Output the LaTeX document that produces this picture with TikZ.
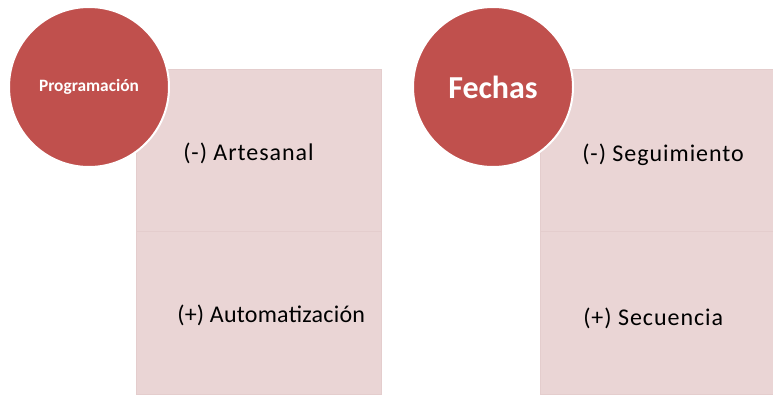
\documentclass[tikz,border=0pt]{standalone}
\usepackage{fontspec}
\setmainfont{Carlito}
\newfontfamily\itemfont[LetterSpace=4]{Carlito}
\newfontfamily\itemfonttight[LetterSpace=1]{Carlito}
\definecolor{topicred}{HTML}{C0504D}
\definecolor{cellpink}{HTML}{EAD5D5}
\definecolor{cellline}{HTML}{E4CDCD}

\begin{document}
\begin{tikzpicture}[x=0.75pt, y=0.75pt,
  topic/.style={circle, fill=topicred, draw=white, line width=1.5pt, minimum size=120pt, inner sep=0pt, text=white, font=\bfseries},
  cell/.style={rectangle, fill=cellpink, draw=cellline, line width=.6pt, inner sep=0pt, minimum width=183.75pt},
  item/.style={anchor=west, inner sep=0pt, font=\itemfont\fontsize{18}{20}\selectfont}]

\useasboundingbox (0,0) rectangle (773,394);

\node[cell, minimum height=121.5pt] (c1) at (258.5,244) {};
\node[cell, minimum height=122.25pt] (c2) at (258.5,81.5) {};
\node[cell, minimum height=121.5pt] (c3) at (662.5,244) {};
\node[cell, minimum height=122.25pt] (c4) at (662.5,81.5) {};

\node[topic, font=\bfseries\fontsize{13}{15}\selectfont] (t1) at (89,307) {Programación};
\node[topic, font=\bfseries\fontsize{24}{28}\selectfont] (t2) at (493,307) {Fechas};

\node[item] (i1) at (183,241) {(-) Artesanal};
\node[item, font=\itemfonttight\fontsize{18}{20}\selectfont] (i2) at (177,79) {(+) Automatización};
\node[item] (i3) at (582,239) {(-) Seguimiento};
\node[item] (i4) at (583,76) {(+) Secuencia};
\end{tikzpicture}
\end{document}
